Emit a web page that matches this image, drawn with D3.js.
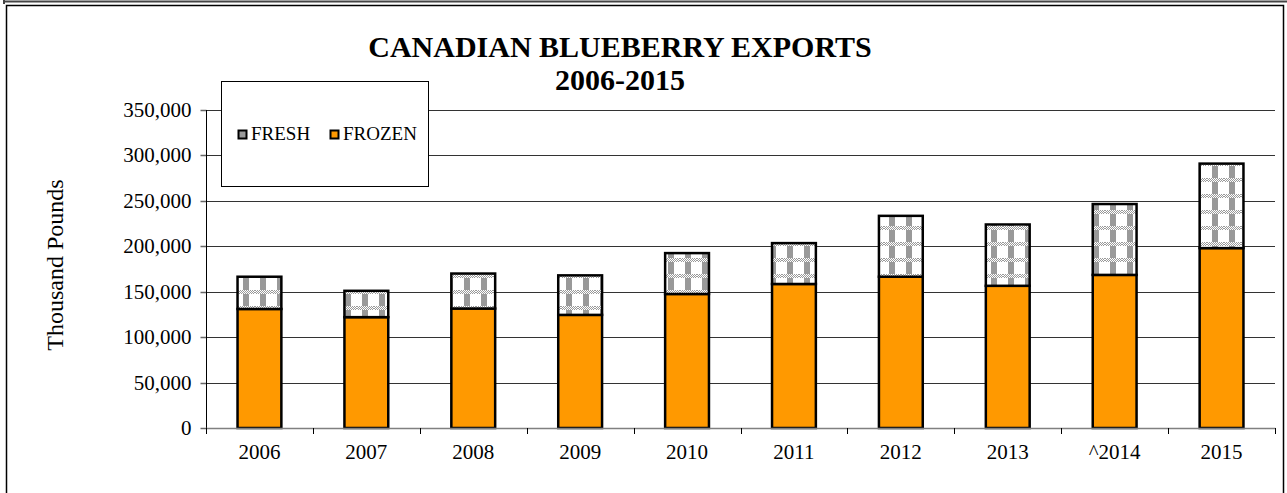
<!DOCTYPE html>
<html>
<head>
<meta charset="utf-8">
<script src="https://cdnjs.cloudflare.com/ajax/libs/d3/7.8.5/d3.min.js"></script>
<style>
  html, body { margin: 0; padding: 0; background: #fff; }
  svg { display: block; }
  text { font-family: "Liberation Serif", "Times New Roman", serif; fill: #000; }
</style>
</head>
<body>
<svg id="chart" width="1287" height="493"></svg>
<script>
const years = ["2006", "2007", "2008", "2009", "2010", "2011", "2012", "2013", "^2014", "2015"];
const frozen = [131000, 122000, 131500, 124500, 147500, 158500, 166500, 156500, 168500, 198000];
const fresh  = [35500, 29000, 38500, 43500, 45000, 45000, 67000, 67500, 78000, 93000];
const yTicks = [0, 50000, 100000, 150000, 200000, 250000, 300000, 350000];
const seriesNames = ["FRESH", "FROZEN"];
const titleLines = ["CANADIAN BLUEBERRY EXPORTS", "2006-2015"];
const yLabel = "Thousand Pounds";

const svg = d3.select("#chart");
const W = 1287, H = 493;

// pattern for fresh
const defs = svg.append("defs");
const pat = defs.append("pattern").attr("id", "freshPat")
  .attr("patternUnits", "userSpaceOnUse").attr("width", 17).attr("height", 16)
  .attr("x", 0).attr("y", 2);
pat.append("rect").attr("width", 17).attr("height", 16).attr("fill", "#fff");
pat.append("rect").attr("x", 5).attr("y", 0).attr("width", 6).attr("height", 16).attr("fill", "#999");
const dith = defs.append("pattern").attr("id", "dither")
  .attr("patternUnits", "userSpaceOnUse").attr("width", 2).attr("height", 2);
dith.append("rect").attr("width", 2).attr("height", 2).attr("fill", "#fff");
dith.append("rect").attr("width", 1).attr("height", 1).attr("fill", "#999");
dith.append("rect").attr("x", 1).attr("y", 1).attr("width", 1).attr("height", 1).attr("fill", "#999");
pat.append("rect").attr("x", 0).attr("y", 0).attr("width", 17).attr("height", 4).attr("fill", "url(#dither)");

// frames
svg.append("line").attr("x1", 3).attr("x2", W).attr("y1", 1.5).attr("y2", 1.5)
  .attr("stroke", "#444").attr("stroke-width", 2);
svg.append("line").attr("x1", 4).attr("x2", 4).attr("y1", 0).attr("y2", 4)
  .attr("stroke", "#444").attr("stroke-width", 2);
svg.append("rect").attr("x", 6.5).attr("y", 5.5).attr("width", 1277).attr("height", 600)
  .attr("fill", "#fff").attr("stroke", "#000").attr("stroke-width", 1.5);

const x0 = 206, x1 = 1275, yTop = 110, yBot = 428;
const x = d3.scaleBand().domain(years).range([x0, x1]).paddingInner(0.59).paddingOuter(0.295);
const y = d3.scaleLinear().domain([0, 350000]).range([yBot, yTop]);
const ry = v => Math.round(y(v)) + 0.5;

// gridlines
svg.append("g").selectAll("line").data(yTicks.filter(t => t > 0)).join("line")
  .attr("x1", x0).attr("x2", x1).attr("y1", ry).attr("y2", ry)
  .attr("stroke", "#333").attr("stroke-width", 1);

// y axis
const yAxis = svg.append("g").attr("transform", `translate(${x0 + 0.5},0)`)
  .call(d3.axisLeft(y).tickValues(yTicks).tickFormat(d3.format(",")).tickSize(6).tickPadding(9));
yAxis.select(".domain").remove();
yAxis.selectAll(".tick line").attr("stroke", "#666").attr("stroke-width", 1.5);
yAxis.selectAll("text").style("font-size", "21px").attr("font-family", "Liberation Serif");
yAxis.selectAll(".tick").attr("transform", d => `translate(0,${ry(d)})`);
svg.append("line").attr("x1", x0 + 0.5).attr("x2", x0 + 0.5).attr("y1", yTop).attr("y2", yBot + 6)
  .attr("stroke", "#000").attr("stroke-width", 1);

// bars
const bars = svg.append("g");
bars.selectAll("rect.frozen").data(years).join("rect").attr("class", "frozen")
  .attr("x", d => x(d)).attr("width", x.bandwidth())
  .attr("y", (d, i) => y(frozen[i])).attr("height", (d, i) => y(0) - y(frozen[i]))
  .attr("fill", "#FF9900").attr("stroke", "#000").attr("stroke-width", 2.5);
bars.selectAll("rect.fresh").data(years).join("rect").attr("class", "fresh")
  .attr("x", d => x(d)).attr("width", x.bandwidth())
  .attr("y", (d, i) => y(frozen[i] + fresh[i])).attr("height", (d, i) => y(frozen[i]) - y(frozen[i] + fresh[i]))
  .attr("fill", "url(#freshPat)").attr("stroke", "#000").attr("stroke-width", 2.5);

// x axis
svg.append("line").attr("x1", x0).attr("x2", x1 + 0.5).attr("y1", yBot + 0.5).attr("y2", yBot + 0.5)
  .attr("stroke", "#808080").attr("stroke-width", 1.5);
const bounds = years.map(d => x(d) - x.step() * x.paddingInner() / 2).concat([x1]);
svg.append("g").selectAll("line").data(bounds).join("line")
  .attr("x1", d => Math.round(d) + 0.5).attr("x2", d => Math.round(d) + 0.5)
  .attr("y1", yBot).attr("y2", yBot + 6).attr("stroke", "#000").attr("stroke-width", 1);
svg.append("g").selectAll("text").data(years).join("text")
  .attr("x", d => x(d) + x.bandwidth() / 2).attr("y", yBot + 31)
  .attr("text-anchor", "middle").style("font-size", "21px").text(d => d);

// title
svg.append("g").selectAll("text").data(titleLines).join("text")
  .attr("x", 620).attr("y", (d, i) => 57 + i * 33).attr("text-anchor", "middle")
  .style("font-size", "30px").style("font-weight", "bold").text(d => d);

// y label
svg.append("text").attr("transform", "translate(63,265) rotate(-90)")
  .attr("text-anchor", "middle").style("font-size", "24px").text(yLabel);

// legend
svg.append("rect").attr("x", 221.5).attr("y", 81.5).attr("width", 207).attr("height", 105)
  .attr("fill", "#fff").attr("stroke", "#000").attr("stroke-width", 1);
const legX = [238, 330];
const leg = svg.append("g").selectAll("g").data(seriesNames).join("g")
  .attr("transform", (d, i) => `translate(${legX[i]},130)`);
leg.append("rect").attr("x", 0.5).attr("y", 0.5).attr("width", 8).attr("height", 8)
  .attr("fill", (d, i) => i === 0 ? "#999" : "#FF9900").attr("stroke", "#000").attr("stroke-width", 2);
leg.append("text").attr("x", 13).attr("y", 10).style("font-size", "19px").text(d => d);
</script>
</body>
</html>
